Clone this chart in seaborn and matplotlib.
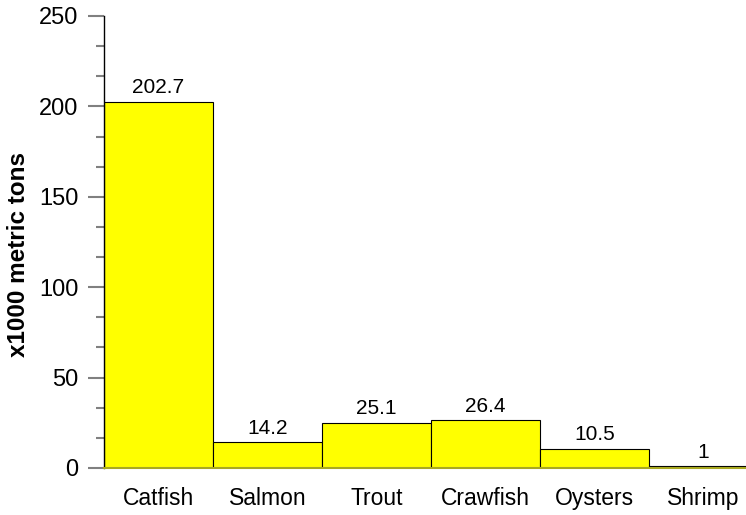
import matplotlib
matplotlib.use('Agg')
import matplotlib.pyplot as plt
from matplotlib.ticker import MultipleLocator
import pandas as pd
import seaborn as sns

# data
species = ['Catfish', 'Salmon', 'Trout', 'Crawfish', 'Oysters', 'Shrimp']
production = [202.7, 14.2, 25.1, 26.4, 10.5, 1]
value_labels = ['202.7', '14.2', '25.1', '26.4', '10.5', '1']

df = pd.DataFrame({'species': species, 'production': production})

sns.set_style('white')
plt.rcParams['font.family'] = ['Liberation Sans', 'DejaVu Sans']
plt.rcParams['text.color'] = 'black'
plt.rcParams['xtick.color'] = 'black'
plt.rcParams['ytick.color'] = 'black'
plt.rcParams['axes.labelcolor'] = 'black'

fig = plt.figure(figsize=(7.46, 5.15), dpi=100)
ax = fig.add_axes([104 / 746, 47 / 515, 654 / 746, 452 / 515])

sns.barplot(data=df, x='species', y='production', color='#ffff00',
            saturation=1, width=1.0, edgecolor='black', linewidth=0.8, ax=ax)

for i, txt in enumerate(value_labels):
    ax.text(i, production[i] + 2.5, txt, ha='center', va='bottom',
            fontsize=15, color='black')

ax.set_xlim(-0.5, 5.5)
ax.set_ylim(0, 250)
ax.yaxis.set_major_locator(MultipleLocator(50))
ax.yaxis.set_minor_locator(MultipleLocator(16.6667))
ax.tick_params(axis='y', which='major', direction='out', length=11.5, width=1.5,
               color='#808080', labelcolor='black', labelsize=17, pad=7, left=True)
ax.tick_params(axis='y', which='minor', direction='out', length=6, width=1.5,
               color='#808080', left=True)
ax.tick_params(axis='x', length=0, labelsize=16.5, labelcolor='black', pad=14)

for s in ['top', 'right']:
    ax.spines[s].set_visible(False)
ax.spines['bottom'].set_color('#a8a820')
ax.spines['bottom'].set_linewidth(1.5)
ax.spines['left'].set_color('black')
ax.spines['left'].set_linewidth(1.0)

ax.set_xlabel('')
ax.set_ylabel('x1000 metric tons', fontsize=17.5, fontweight='bold', color='black')
ax.yaxis.set_label_coords(-0.113, 0.473)

fig.savefig('out.png', dpi=100)
